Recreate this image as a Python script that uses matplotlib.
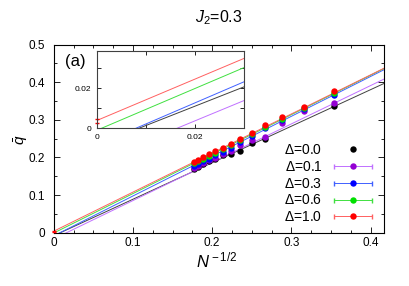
import numpy as np
import matplotlib
matplotlib.use("Agg")
import matplotlib.pyplot as plt
from matplotlib.ticker import MultipleLocator
from matplotlib.lines import Line2D
from matplotlib.container import ErrorbarContainer
from matplotlib.legend_handler import HandlerErrorbar

plt.rcParams['font.family'] = ['Liberation Sans', 'DejaVu Sans']
plt.rcParams['mathtext.fontset'] = 'custom'
plt.rcParams['mathtext.rm'] = 'Liberation Sans'
plt.rcParams['mathtext.it'] = 'Liberation Sans:italic'

# system sizes N = 8 ... 32, x = N^{-1/2}
N_all = np.array([32, 30, 28, 26, 24, 22, 20, 18, 16, 14, 12, 10, 8])
N_black = np.array([32, 30, 28, 26, 24, 22, 20, 18, 16, 14, 8])

q_black = [0.168, 0.175, 0.182, 0.190, 0.195, 0.206, 0.210, 0.217, 0.239, 0.249, 0.337]
q_purple = [0.172, 0.178, 0.184, 0.192, 0.199, 0.208, 0.218, 0.233, 0.246, 0.255, 0.292, 0.323, 0.345]
q_blue = [0.177, 0.183, 0.190, 0.197, 0.206, 0.215, 0.226, 0.242, 0.257, 0.279, 0.299, 0.328, 0.365]
q_green = [0.184, 0.190, 0.197, 0.205, 0.213, 0.222, 0.233, 0.246, 0.262, 0.282, 0.303, 0.331, 0.371]
q_red = [0.188, 0.194, 0.201, 0.209, 0.217, 0.226, 0.237, 0.250, 0.266, 0.285, 0.307, 0.334, 0.376]

labels = [r'$\Delta$=0.0', r'$\Delta$=0.1', r'$\Delta$=0.3', r'$\Delta$=0.6', r'$\Delta$=1.0']
colors = ['black', '#9400d3', '#0000ff', '#00e000', '#ff0000']
line_colors = ['#404040', '#c070ff', '#4060ff', '#40e040', '#ff6060']

# linear fits  q = a + b x
fit_a = [-0.0085, -0.0168, -0.0086, -0.0012, 0.0037]
fit_b = [0.972, 1.02, 1.06, 1.05, 1.04]
red_extrap = 0.0037
red_extrap_err = 0.0010

fig = plt.figure(figsize=(4.09, 2.86), dpi=100)
ax = fig.add_axes([0.1313, 0.1867, 0.8076, 0.657])

xs = np.array([0.0, 0.42])
for a, b, c in zip(fit_a, fit_b, line_colors):
    ax.plot(xs, a + b * xs, color=c, lw=0.7, zorder=2)

data = [(N_black, q_black), (N_all, q_purple), (N_all, q_blue), (N_all, q_green), (N_all, q_red)]
for (N, q), c in zip(data, colors):
    ax.plot(1 / np.sqrt(N), q, 'o', color=c, ms=4.6, mec='none', zorder=3, clip_on=False)
ax.errorbar([0], [red_extrap], yerr=[red_extrap_err], fmt='none', ecolor='#ff0000',
            elinewidth=0.7, capsize=1.5, zorder=3, clip_on=False)

ax.set_xlim(0, 0.417)
ax.set_ylim(0, 0.5)
ax.xaxis.set_major_locator(MultipleLocator(0.1))
ax.xaxis.set_minor_locator(MultipleLocator(0.025))
ax.yaxis.set_major_locator(MultipleLocator(0.1))
ax.yaxis.set_minor_locator(MultipleLocator(0.05))
ax.set_xticklabels(['0' if t == 0 else f'{t:.1f}' for t in ax.get_xticks()])
ax.set_yticklabels(['0' if t == 0 else f'{t:.1f}' for t in ax.get_yticks()])
ax.tick_params(which='both', direction='in', top=True, right=True, labelsize=8.5, width=0.6)
ax.tick_params(which='major', length=4)
ax.tick_params(axis='x', which='major', pad=3)
ax.tick_params(axis='y', which='major', pad=6)
ax.tick_params(which='minor', length=2.5)
for s in ax.spines.values():
    s.set_linewidth(0.8)

ax.text(0.064, 0.913, '(a)', transform=ax.transAxes, fontsize=12, ha='center', va='center')

# legend
handles = [Line2D([], [], marker='o', color='black', ls='none', ms=4.6, mec='none')]
for c, lc in zip(colors[1:], line_colors[1:]):
    h = ax.errorbar([np.nan], [np.nan], xerr=[1], fmt='o', color=c, ecolor=lc, ms=4.6,
                    mec='none', elinewidth=0.7, capsize=1.8)
    handles.append(h)
ax.legend(handles, labels, loc='lower right', bbox_to_anchor=(0.965, 0.045), frameon=False,
          markerfirst=False, fontsize=10, handlelength=2.8, handletextpad=0.8,
          labelspacing=0.2, borderpad=0, borderaxespad=0,
          handler_map={ErrorbarContainer: HandlerErrorbar(xerr_size=1.4)})

# inset
ins = fig.add_axes([0.236, 0.5524, 0.3613, 0.2703])
for a, b, c in zip(fit_a, fit_b, line_colors):
    ins.plot(xs, a + b * xs, color=c, lw=0.7)
ins.errorbar([0], [red_extrap], yerr=[red_extrap_err], fmt='none', ecolor='#ff0000',
             elinewidth=0.7, capsize=1.5, clip_on=False)
ins.set_xlim(0, 0.03)
ins.set_ylim(0, 0.0387)
ins.set_xticks([0, 0.01, 0.02, 0.03])
ins.set_xticklabels(['0', '', '0.02', ''])
ins.set_yticks([0, 0.01, 0.02, 0.03])
ins.set_yticklabels(['0', '', '0.02', ''])
ins.tick_params(direction='in', top=True, right=True, labelsize=6, length=3, width=0.6, pad=4)
for s in ins.spines.values():
    s.set_linewidth(0.8)
    s.set_color('#404040')

fig.text(0.534, 0.937, r'$J_2$=0.3', ha='center', va='center', fontsize=11.5)
fig.text(0.531, 0.088, r'$N^{\rm -1/2}$', ha='center', va='center', fontsize=12)
fig.text(0.052, 0.51, r'$\bar{q}$', ha='center', va='center', rotation=90, fontsize=11)

fig.savefig('out.png', dpi=100)
